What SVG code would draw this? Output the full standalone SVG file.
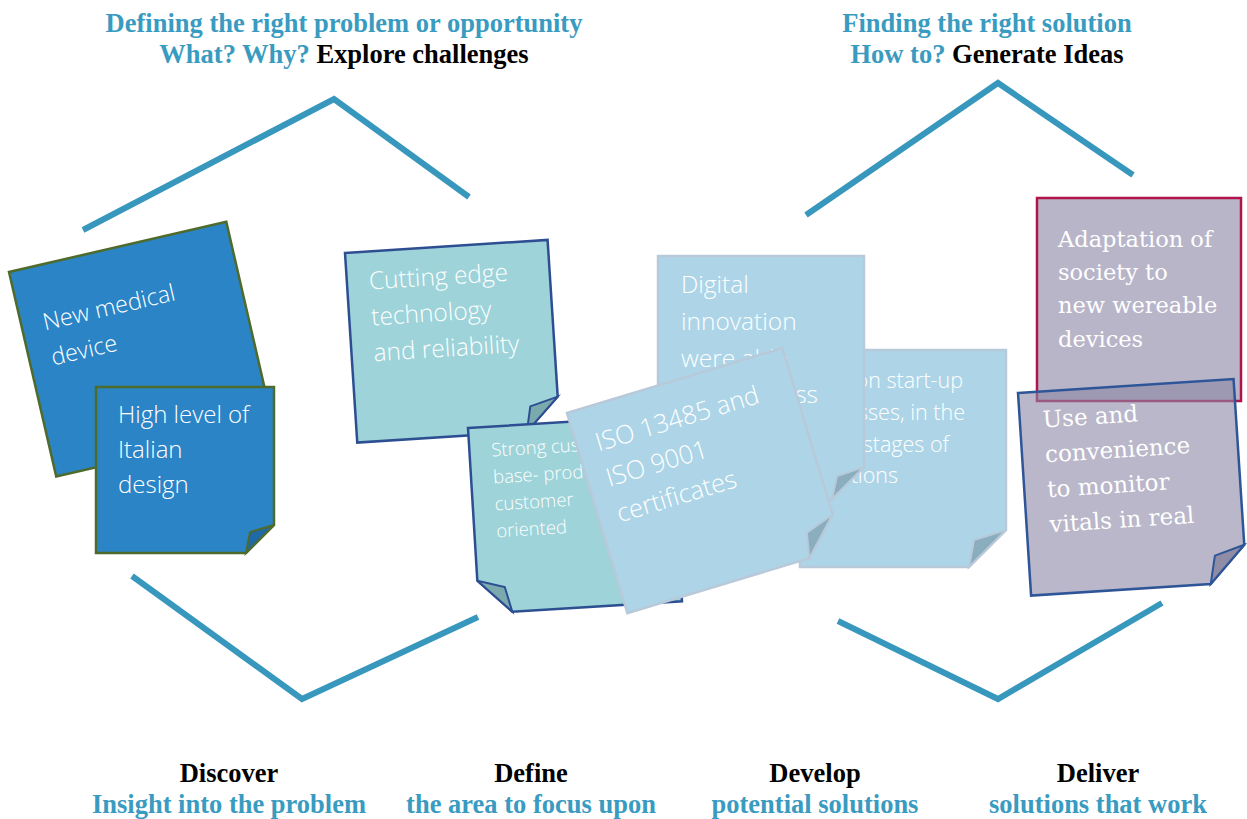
<svg xmlns="http://www.w3.org/2000/svg" width="1247" height="819" viewBox="0 0 1247 819">
  <style>
    .head { font-family: "Liberation Serif", "Times New Roman", serif; font-weight: bold; font-size: 26.5px; text-anchor: middle; }
    .blue { fill: #3a9bc1; }
    .black { fill: #000000; }
    .zig { fill: none; stroke: #3897bd; stroke-width: 6; stroke-linejoin: miter; }
    .sans { font-family: "Open Sans", "Liberation Sans", sans-serif; font-weight: 300; fill: #ffffff; }
    .serif { font-family: "DejaVu Serif", "Liberation Serif", serif; fill: #ffffff; }
    .n-dark { fill: #2a84c6; stroke: #4f6b2b; stroke-width: 2.5; }
    .f-dark { fill: #1f6aa6; stroke: #4f6b2b; stroke-width: 2; }
    .n-teal { fill: #9dd3d9; stroke: #2d4f92; stroke-width: 2.5; }
    .f-teal { fill: #7aa9ae; stroke: #2d4f92; stroke-width: 2; }
    .n-pale { fill: #add5e7; stroke: #b8c9da; stroke-width: 2.5; }
    .f-pale { fill: #8aaebd; stroke: #b8c9da; stroke-width: 2; }
    .n-lav { fill: #b8b5c9; stroke: #b0144b; stroke-width: 2.5; }
    .n-lav2 { fill: #8b87a5; fill-opacity: 0.6; stroke: #2e5597; stroke-width: 2.5; }
    .f-lav2 { fill: #8f8ca6; stroke: #2e5597; stroke-width: 2; }
  </style>

  <!-- headings -->
  <g id="heading-problem">
    <text class="head blue" x="344" y="32">Defining the right problem or opportunity</text>
    <text class="head" x="344" y="63"><tspan class="blue">What? Why? </tspan><tspan class="black">Explore challenges</tspan></text>
  </g>
  <g id="heading-solution">
    <text class="head blue" x="987" y="32">Finding the right solution</text>
    <text class="head" x="987" y="63"><tspan class="blue">How to? </tspan><tspan class="black">Generate Ideas</tspan></text>
  </g>

  <!-- double diamond strokes -->
  <g id="connectors">
    <polyline class="zig" points="83,230 334,99 469,197"/>
    <polyline class="zig" points="132,576 302,699 478,617"/>
    <polyline class="zig" points="806,215 998,83 1133,175"/>
    <polyline class="zig" points="838,621 998,699 1162,603"/>
  </g>

  <!-- Discover notes -->
  <g id="note-new-device" transform="translate(9,272) rotate(-13)">
    <rect class="n-dark" x="0" y="0" width="223" height="210"/>
    <text class="sans" font-size="23.5"><tspan x="22" y="65">New medical</tspan><tspan x="22" y="101">device</tspan></text>
  </g>
  <g id="note-italian-design" transform="translate(96,387)">
    <path class="n-dark" d="M0,0 H178 V138 L150,166 H0 Z"/>
    <path class="f-dark" d="M178,138 L154,145 L150,166 Z"/>
    <text class="sans" font-size="24"><tspan x="22" y="36">High level of</tspan><tspan x="22" y="71">Italian</tspan><tspan x="22" y="106">design</tspan></text>
  </g>

  <!-- Define notes -->
  <g id="note-cutting-edge" transform="translate(345,253) rotate(-3.7)">
    <path class="n-teal" d="M0,0 H203 V157 L170,190 H0 Z"/>
    <path class="f-teal" d="M203,157 L175,165 L170,190 Z"/>
    <text class="sans" font-size="24.5"><tspan x="22" y="38">Cutting edge</tspan><tspan x="22" y="74">technology</tspan><tspan x="22" y="110">and reliability</tspan></text>
  </g>
  <g id="note-customer-base" transform="translate(468,428) rotate(-3.5)">
    <path class="n-teal" d="M0,0 H203 V186 H33 L0,153 Z"/>
    <path class="f-teal" d="M0,153 L27,161 L33,186 Z"/>
    <text class="sans" font-size="18.5"><tspan x="22" y="30">Strong customer</tspan><tspan x="22" y="57">base- product</tspan><tspan x="22" y="84">customer</tspan><tspan x="22" y="111">oriented</tspan></text>
  </g>

  <!-- Develop notes -->
  <g id="note-start-up" transform="translate(800,350)">
    <path class="n-pale" d="M0,0 H206 V180 L169,217 H0 Z"/>
    <path class="f-pale" d="M206,180 L174,190 L169,217 Z"/>
    <text class="sans" font-size="21.5" text-anchor="end"><tspan x="163" y="38">on start-up</tspan><tspan x="165" y="70">sses, in the</tspan><tspan x="149" y="102">stages of</tspan><tspan x="98" y="133">tions</tspan></text>
  </g>
  <g id="note-digital" transform="translate(658,256)">
    <path class="n-pale" d="M0,0 H206 V211 L174,243 H0 Z"/>
    <path class="f-pale" d="M206,211 L179,220 L174,243 Z"/>
    <text class="sans" font-size="24.5"><tspan x="23" y="37">Digital</tspan><tspan x="23" y="74">innovation</tspan><tspan x="23" y="111">were able</tspan></text>
    <text class="sans" font-size="24.5" text-anchor="end" x="160" y="147">ss</text>
  </g>
  <g id="note-iso" transform="translate(567,413) rotate(-16.8)">
    <path class="n-pale" d="M0,0 H225 V174 L190,209 H0 Z"/>
    <path class="f-pale" d="M225,174 L195,184 L190,209 Z"/>
    <text class="sans" font-size="25.5"><tspan x="19" y="46">ISO 13485 and</tspan><tspan x="19" y="83">ISO 9001</tspan><tspan x="19" y="120">certificates</tspan></text>
  </g>

  <!-- Deliver notes -->
  <g id="note-adaptation">
    <rect class="n-lav" x="1037" y="198" width="204" height="203"/>
    <text class="serif" font-size="22.5"><tspan x="1058" y="247">Adaptation of</tspan><tspan x="1058" y="280">society to</tspan><tspan x="1058" y="313">new wereable</tspan><tspan x="1058" y="347">devices</tspan></text>
  </g>
  <g id="note-use" transform="translate(1018,393) rotate(-3.7)">
    <path class="n-lav2" d="M0,0 H216 V166 L180,203 H0 Z"/>
    <path class="f-lav2" d="M216,166 L186,175 L180,203 Z"/>
    <text class="serif" font-size="23"><tspan x="23" y="36">Use and</tspan><tspan x="23" y="71">convenience</tspan><tspan x="23" y="106">to monitor</tspan><tspan x="23" y="141">vitals in real</tspan></text>
  </g>

  <!-- phase labels -->
  <g id="label-discover">
    <text class="head black" x="229" y="782">Discover</text>
    <text class="head blue" x="229" y="813">Insight into the problem</text>
  </g>
  <g id="label-define">
    <text class="head black" x="531" y="782">Define</text>
    <text class="head blue" x="531" y="813">the area to focus upon</text>
  </g>
  <g id="label-develop">
    <text class="head black" x="815" y="782">Develop</text>
    <text class="head blue" x="815" y="813">potential solutions</text>
  </g>
  <g id="label-deliver">
    <text class="head black" x="1098" y="782">Deliver</text>
    <text class="head blue" x="1098" y="813">solutions that work</text>
  </g>
</svg>
